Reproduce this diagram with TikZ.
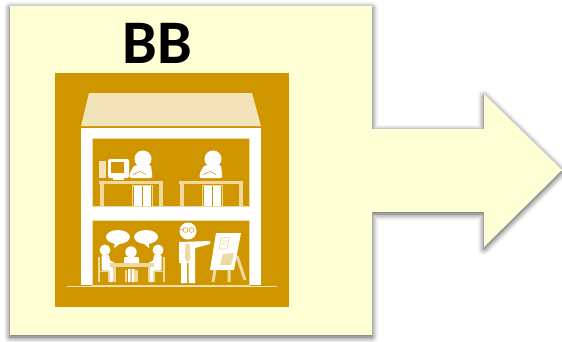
\documentclass[tikz,border=0pt]{standalone}
\usepackage{fontspec}
\setmainfont{Carlito}
\usetikzlibrary{positioning, shapes.geometric, shadows.blur}
\definecolor{bbYellow}{HTML}{FFFFD5}
\definecolor{bbOrange}{HTML}{D09600}
\definecolor{bbRoof}{HTML}{F3E3BB}
\definecolor{bbTan}{HTML}{EFD9A0}
\tikzset{
  seated/.pic={
    \fill[white] (0,0) circle (8.5);
    \fill[white, rounded corners=1.5pt] (-9,6.5) -- (8,6) -- (9.5,19) -- (-13.5,19) -- (-13.5,15) -- cycle;
    \draw[bbOrange, line width=.6pt] (-10,15.5) -- (-3,12.5) -- (3,15.5);
    \fill[white] (-9,27) rectangle (-1.5,47);
    \fill[white] (0,27) rectangle (7.5,47);
    \draw[bbTan, line width=.6pt] (-10.5,47) -- (-10.5,26.5) -- (9,26.5) -- (9,47);
  },
  sideperson/.pic={
    \fill[white] (0,0) circle (5.5);
    \fill[white, rounded corners=1pt] (-3.5,5) -- (4,5) -- (5,11) -- (9,12) -- (9,14.5) -- (4.5,14.5) -- (4.5,17) -- (8.5,17)
      -- (8.5,32) -- (4.5,32) -- (4.5,20.5) -- (-3.5,20.5) -- cycle;
    \draw[bbTan, line width=1.8pt] (-6,7) -- (-6,32) (-6,21.5) -- (5,21.5) (4,21.5) -- (4,32);
  }
}
\begin{document}
\begin{tikzpicture}[x=1pt,y=-1pt,
  roof/.style={fill=bbRoof, draw=none},
  wall/.style={fill=white, draw=none},
  room/.style={fill=bbOrange, draw=bbTan, line width=.5pt},
  desk/.style={draw=bbTan, line width=3.6pt},
  sheet/.style={draw=bbTan, line width=.7pt},
  bubble/.style={ellipse, fill=white, minimum width=24pt, minimum height=14pt, inner sep=0pt}]
  \useasboundingbox (0,0) rectangle (562,341);
  % panel and arrow are one outline
  \fill[bbYellow, blur shadow={shadow xshift=0pt, shadow yshift=-2pt, shadow blur radius=6pt, shadow opacity=75}]
    (10,6) -- (372,6) -- (372,129) -- (484,129) -- (484,94) -- (562,170) -- (484,247)
    -- (484,212) -- (372,212) -- (372,335) -- (10,335) -- cycle;
  \node[font=\bfseries\fontsize{62}{62}\selectfont, inner sep=0pt, text=black] (title) at (157,43) {BB};
  \node[fill=bbOrange, minimum size=234pt, inner sep=0pt, outer sep=0pt] (icon) at (172,190) {};
  % house
  \fill[roof] (89,93) -- (252,93) -- (261,126) -- (81,126) -- cycle;
  \fill[wall] (81,128) rectangle (261,285);
  \draw[room] (92.5,138.5) rectangle (249,206);
  \draw[room] (92.5,220) rectangle (249,285);
  \draw[bbRoof, line width=1.8pt] (67,286.5) -- (277,286.5);
  % upper floor
  \foreach \px in {143,213}
    \pic at (\px,159) {seated};
  \foreach \dx in {99,179} {
    \draw[desk] (\dx,182.5) -- ++(64,0);
    \draw[desk] (\dx+3,182.5) -- ++(0,23.5) (\dx+62,182.5) -- ++(0,23.5);
  }
  \fill[white, rounded corners=2pt] (108,159) rectangle (129,178);
  \fill[bbOrange] (111,162) rectangle (124,173);
  \fill[white] (113,178) rectangle (124,180);
  \fill[bbRoof] (99,161) rectangle (106,178);
  % lower floor
  \node[bubble] (left bubble) at (118,237) {};
  \node[bubble] (right bubble) at (146,237) {};
  \fill[white] (115,242) -- (114,248) -- (121,243) -- cycle;
  \fill[white] (143,243) -- (149,248) -- (149,242) -- cycle;
  \pic at (105,250) {sideperson};
  \pic[xscale=-1] at (158,250) {sideperson};
  \fill[white] (131,252) circle (5.7);
  \fill[white, rounded corners=1pt] (124,257) rectangle (139,265);
  \draw[bbTan, line width=2.5pt] (126,270) -- (126,282) (136.5,270) -- (136.5,282);
  \fill[white] (128,269) rectangle (130.5,282) (131.5,269) rectangle (134.5,282);
  \draw[desk, line width=3.6pt] (110,265) -- (154,265);
  \draw[desk, line width=2.6pt] (115,265) -- (115,282) (149,265) -- (149,282);
  % teacher and board
  \fill[white] (188,231) circle (8.5);
  \draw[bbOrange, line width=.5pt] (185.5,230) circle (2.4) (191.5,230) circle (2.4);
  \draw[bbOrange, line width=.5pt] (183,230) -- (180,229);
  \fill[white] (179,242) -- (210,241) -- (210,244) -- (195,248) -- (195,283) -- (188.5,283) -- (188.5,263)
    -- (187,263) -- (187,283) -- (181,283) -- (181,263) -- (179,263) -- cycle;
  \fill[bbTan] (185.5,244) -- (189.5,244) -- (190.5,258) -- (187.5,263) -- (185,258) -- cycle;
  \draw[desk, line width=3pt] (215,270) -- (213,282) (229,270) -- (229,282) (237,256) -- (245,280);
  \fill[white] (216,233) -- (241,233) -- (234,270) -- (210,270) -- cycle;
  \draw[sheet] (221,238) -- (229,237) -- (227,249) -- (219,249) -- cycle
    (222,241) -- (227,241) (221,244) -- (226,244);
  \fill[bbTan] (223,254) -- (234,253) -- (231,265) -- (220,265) -- cycle;
\end{tikzpicture}
\end{document}
